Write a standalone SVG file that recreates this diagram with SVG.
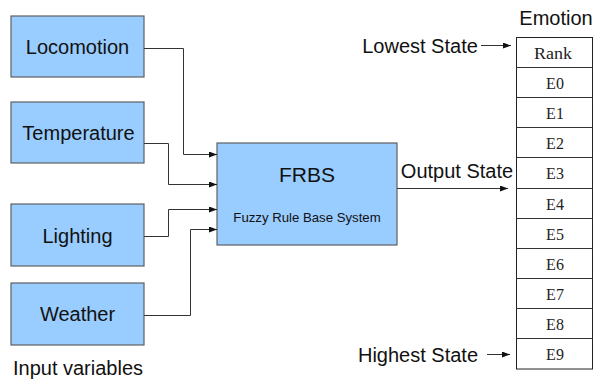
<svg xmlns="http://www.w3.org/2000/svg" width="594" height="379" viewBox="0 0 594 379">
<style>
.box{fill:#99ccff;stroke:#606060;stroke-width:1.2}
.lbl{font-family:"Liberation Sans",Arial,sans-serif;fill:#111;text-anchor:middle}
.conn{fill:none;stroke:#333;stroke-width:1}
.cell{fill:#fff;stroke:#222;stroke-width:1}
.ser{font-family:"Liberation Serif","Times New Roman",serif;font-size:16px;fill:#222;text-anchor:middle}
</style>
<defs>
<marker id="ah" markerWidth="8" markerHeight="6" refX="8" refY="3" orient="auto" markerUnits="userSpaceOnUse">
<path d="M0,0 L8,3 L0,6 Z" fill="#111"/>
</marker>
</defs>
<rect width="594" height="379" fill="#fff"/>
<g id="locomotion"><rect class="box" x="11" y="16" width="133" height="61"/><text class="lbl" x="77.5" y="54" font-size="20">Locomotion</text></g>
<g id="temperature"><rect class="box" x="11" y="102" width="133" height="61"/><text class="lbl" x="78.5" y="140" font-size="20">Temperature</text></g>
<g id="lighting"><rect class="box" x="11" y="204" width="133" height="62"/><text class="lbl" x="77.5" y="243" font-size="20">Lighting</text></g>
<g id="weather"><rect class="box" x="11" y="283" width="133" height="62"/><text class="lbl" x="77.5" y="321" font-size="20">Weather</text></g>
<g id="frbs"><rect class="box" x="217" y="143" width="180" height="102"/><text class="lbl" x="307" y="182" font-size="21">FRBS</text><text class="lbl" x="307" y="222" font-size="13.2" fill="#333">Fuzzy Rule Base System</text></g>
<g id="emotion-table">
<text class="lbl" x="556" y="25" font-size="20">Emotion</text>
<rect class="cell" x="516.5" y="37.5" width="76" height="331.5"/>
<g class="conn" stroke="#222"><path d="M516.5,67.5H592.5M516.5,97.5H592.5M516.5,127.5H592.5M516.5,157.5H592.5M516.5,188.5H592.5M516.5,218.5H592.5M516.5,248.5H592.5M516.5,278.5H592.5M516.5,308.5H592.5M516.5,338.5H592.5"/></g>
<text class="ser" x="553" y="59" textLength="38" lengthAdjust="spacingAndGlyphs">Rank</text>
<text class="ser" x="555" y="89">E0</text>
<text class="ser" x="555" y="119">E1</text>
<text class="ser" x="555" y="149">E2</text>
<text class="ser" x="555" y="179">E3</text>
<text class="ser" x="555" y="210">E4</text>
<text class="ser" x="555" y="240">E5</text>
<text class="ser" x="555" y="270">E6</text>
<text class="ser" x="555" y="300">E7</text>
<text class="ser" x="555" y="330">E8</text>
<text class="ser" x="555" y="360">E9</text>
</g>
<g id="labels">
<text class="lbl" x="420" y="53" font-size="20">Lowest State</text>
<text class="lbl" x="418" y="362" font-size="20">Highest State</text>
<text class="lbl" x="457" y="178" font-size="20">Output State</text>
<text class="lbl" x="78" y="375" font-size="20">Input variables</text>
</g>
<g id="connectors">
<path class="conn" d="M144,48.5H183.5V154.5H217" marker-end="url(#ah)"/>
<path class="conn" d="M144,143.5H168.5V184.5H217" marker-end="url(#ah)"/>
<path class="conn" d="M144,236.5H168.5V209.5H217" marker-end="url(#ah)"/>
<path class="conn" d="M144,315.5H190.5V229.5H217" marker-end="url(#ah)"/>
<path class="conn" d="M397,188.5H508" marker-end="url(#ah)"/>
<path class="conn" d="M481,45.5H511" marker-end="url(#ah)"/>
<path class="conn" d="M487,354.5H510" marker-end="url(#ah)"/>
</g>
</svg>
